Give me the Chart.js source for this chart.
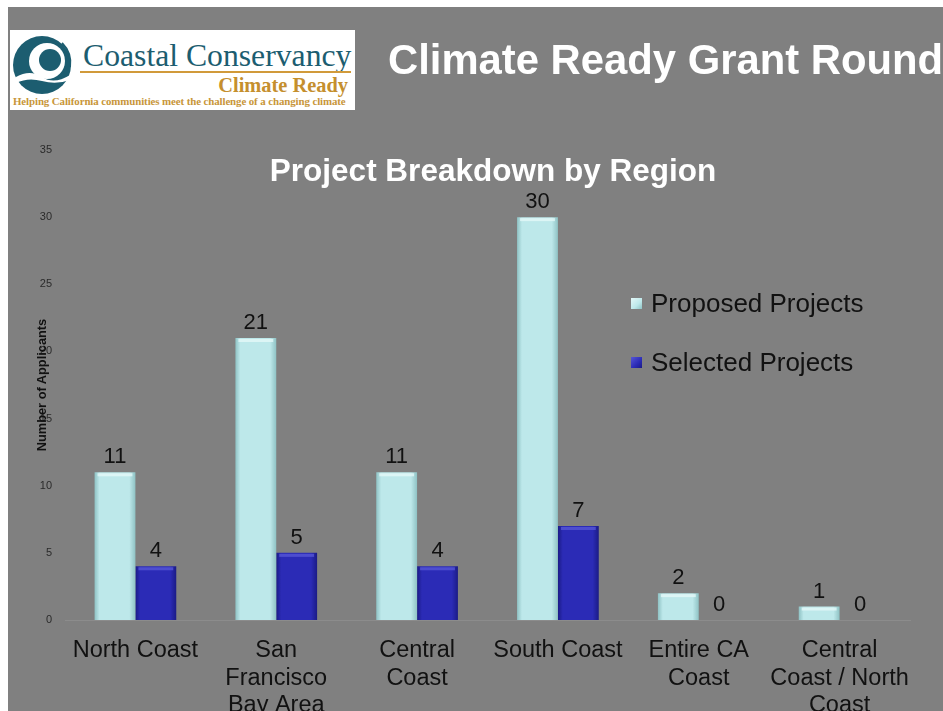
<!DOCTYPE html>
<html>
<head>
<meta charset="utf-8">
<script src="https://cdn.jsdelivr.net/npm/chart.js@4.4.0/dist/chart.umd.min.js"></script>
<style>
  html, body { margin: 0; padding: 0; background: #fff; width: 943px; height: 711px; overflow: hidden; }
  #slide { position: absolute; left: 8px; top: 7px; width: 935px; height: 704px; background: #808080; overflow: hidden;
           font-family: "Liberation Sans", Arial, sans-serif; }
  #chart { position: absolute; left: 0; top: 0; }
  #logo { position: absolute; left: 2px; top: 23px; width: 345px; height: 80px; background: #fff; }
  #logo .name { position: absolute; left: 73px; top: 10px; font: 31.7px/1 "Liberation Serif", "Times New Roman", serif; color: #1c5d70; white-space: nowrap; }
  #logo .rule { position: absolute; left: 70px; top: 41px; width: 271px; height: 2px; background: #d19a3a; }
  #logo .sub { position: absolute; right: 7px; top: 45px; font: bold 20.4px/1 "Liberation Serif", serif; color: #c58f2e; white-space: nowrap; }
  #logo .tag { position: absolute; left: 3px; top: 66px; font: bold 10.9px/1 "Liberation Serif", serif; color: #c8963a; white-space: nowrap; letter-spacing: -0.1px; }
  #logo svg { position: absolute; left: 2px; top: 3px; }
  #title { position: absolute; left: 380px; top: 29px; font: bold 41.8px/48px "Liberation Sans", Arial, sans-serif; color: #fff; white-space: nowrap; }
  #subtitle { position: absolute; left: 185px; width: 600px; top: 145px; text-align: center; font: bold 31.5px/36px "Liberation Sans", Arial, sans-serif; color: #fff; }
  #ytitle { position: absolute; left: -66px; top: 371px; width: 200px; height: 14px; text-align: center; font: bold 12.8px/14px "Liberation Sans", Arial, sans-serif; color: #111; transform: rotate(-90deg); }
  #legend { position: absolute; left: 623px; top: 279px; }
  #legend .item { position: relative; height: 59px; white-space: nowrap; }
  #legend .box { position: absolute; left: 0; top: 12px; width: 11px; height: 11px; }
  #legend .txt { position: absolute; left: 20px; top: 0; font: 26px/34px "Liberation Sans", Arial, sans-serif; color: #111; }
</style>
</head>
<body>
<div id="slide">
  <canvas id="chart" width="935" height="760"></canvas>
  <div id="logo">
    <svg width="62" height="64" viewBox="0 0 62 64">
      <circle cx="30" cy="32" r="29" fill="#1c5d70"/>
      <circle cx="35" cy="28" r="18" fill="#fff"/>
      <circle cx="38" cy="27" r="11" fill="#1c5d70"/>
      <path d="M4 44 Q18 36 30 44 T58 42 L58 47 Q44 52 30 48 T4 50 Z" fill="#fff"/>
      <path d="M50 10 Q60 20 58 34" stroke="#1c5d70" stroke-width="2" fill="none"/>
    </svg>
    <div class="name">Coastal Conservancy</div>
    <div class="rule"></div>
    <div class="sub">Climate Ready</div>
    <div class="tag">Helping California communities meet the challenge of a changing climate</div>
  </div>
  <div id="title">Climate Ready Grant Round</div>
  <div id="subtitle">Project Breakdown by Region</div>
  <div id="ytitle">Number of Applicants</div>
  <div id="legend"></div>
</div>
<script>
// chart data
const categories = [
  ["North Coast"],
  ["San", "Francisco", "Bay Area"],
  ["Central", "Coast"],
  ["South Coast"],
  ["Entire CA", "Coast"],
  ["Central", "Coast / North", "Coast"]
];
const proposedProjects = [11, 21, 11, 30, 2, 1];
const selectedProjects = [4, 5, 4, 7, 0, 0];
const seriesNames = ["Proposed Projects", "Selected Projects"];
const yMin = 0, yMax = 35, yStep = 5;

const CAT_PCT = 0.58;

// colours: [edge, middle, top highlight]
const palette = [
  ["#8fc2c4", "#bde8ea", "#e4f8f8"],
  ["#1b1b86", "#2b2bb6", "#5656d6"]
];

function barFill(c) {
  const chart = c.chart;
  const xs = chart.scales.x;
  const p = palette[c.datasetIndex];
  if (!chart.chartArea || !xs) return p[1];
  const catW = (chart.chartArea.right - chart.chartArea.left) / categories.length;
  const w = catW * CAT_PCT / 2;
  const cx = xs.getPixelForValue(c.dataIndex) + (c.datasetIndex === 0 ? -w / 2 : w / 2);
  const g = chart.ctx.createLinearGradient(cx - w / 2, 0, cx + w / 2, 0);
  g.addColorStop(0, p[0]);
  g.addColorStop(0.12, p[1]);
  g.addColorStop(0.85, p[1]);
  g.addColorStop(1, p[0]);
  return g;
}

const barExtras = {
  id: 'barExtras',
  afterDatasetsDraw(chart) {
    const ctx = chart.ctx;
    ctx.save();
    chart.data.datasets.forEach((ds, di) => {
      const meta = chart.getDatasetMeta(di);
      meta.data.forEach((bar, i) => {
        const h = bar.base - bar.y;
        if (h > 4) {
          ctx.fillStyle = palette[di][2];
          ctx.globalAlpha = 0.8;
          ctx.fillRect(bar.x - bar.width / 2 + 3, bar.y + 1, bar.width - 6, 3);
          ctx.globalAlpha = 1;
        }
        ctx.fillStyle = '#111';
        ctx.font = '22px "Liberation Sans", Arial, sans-serif';
        ctx.textAlign = 'center';
        ctx.textBaseline = 'middle';
        ctx.fillText(String(ds.data[i]), bar.x, bar.y - 15);
      });
    });
    ctx.restore();
  }
};

const chart = new Chart(document.getElementById('chart'), {
  type: 'bar',
  data: {
    labels: categories,
    datasets: [
      { label: seriesNames[0], data: proposedProjects, backgroundColor: barFill, borderWidth: 0 },
      { label: seriesNames[1], data: selectedProjects, backgroundColor: barFill, borderWidth: 0 }
    ]
  },
  options: {
    responsive: false,
    animation: false,
    devicePixelRatio: 1,
    layout: { padding: { top: 143, right: 33, left: 0, bottom: 0 } },
    datasets: { bar: { categoryPercentage: CAT_PCT, barPercentage: 1 } },
    plugins: { legend: { display: false }, title: { display: false }, tooltip: { enabled: false } },
    scales: {
      x: {
        grid: { display: false, drawTicks: false },
        border: { display: true, color: '#8c8c8c', width: 1 },
        ticks: { color: '#111', padding: 17, font: { family: '"Liberation Sans", Arial, sans-serif', size: 23.5, lineHeight: '27.5px' }, maxRotation: 0, autoSkip: false },
        afterFit(s) { s.height = 147; }
      },
      y: {
        min: yMin, max: yMax,
        grid: { display: false, drawTicks: false },
        border: { display: false },
        ticks: { stepSize: yStep, color: '#2a2a2a', padding: 13, font: { family: '"Liberation Sans", Arial, sans-serif', size: 11 } },
        afterFit(s) { s.width = 57; }
      }
    }
  },
  plugins: [barExtras]
});

// legend built from the datasets
const legend = document.getElementById('legend');
chart.data.datasets.forEach((ds, i) => {
  const item = document.createElement('div');
  item.className = 'item';
  item.innerHTML = '<div class="box" style="background:linear-gradient(135deg,' + palette[i][2] + ',' + palette[i][1] + ' 60%,' + palette[i][0] + ')"></div><div class="txt"></div>';
  item.querySelector('.txt').textContent = ds.label;
  legend.appendChild(item);
});
</script>
</body>
</html>
